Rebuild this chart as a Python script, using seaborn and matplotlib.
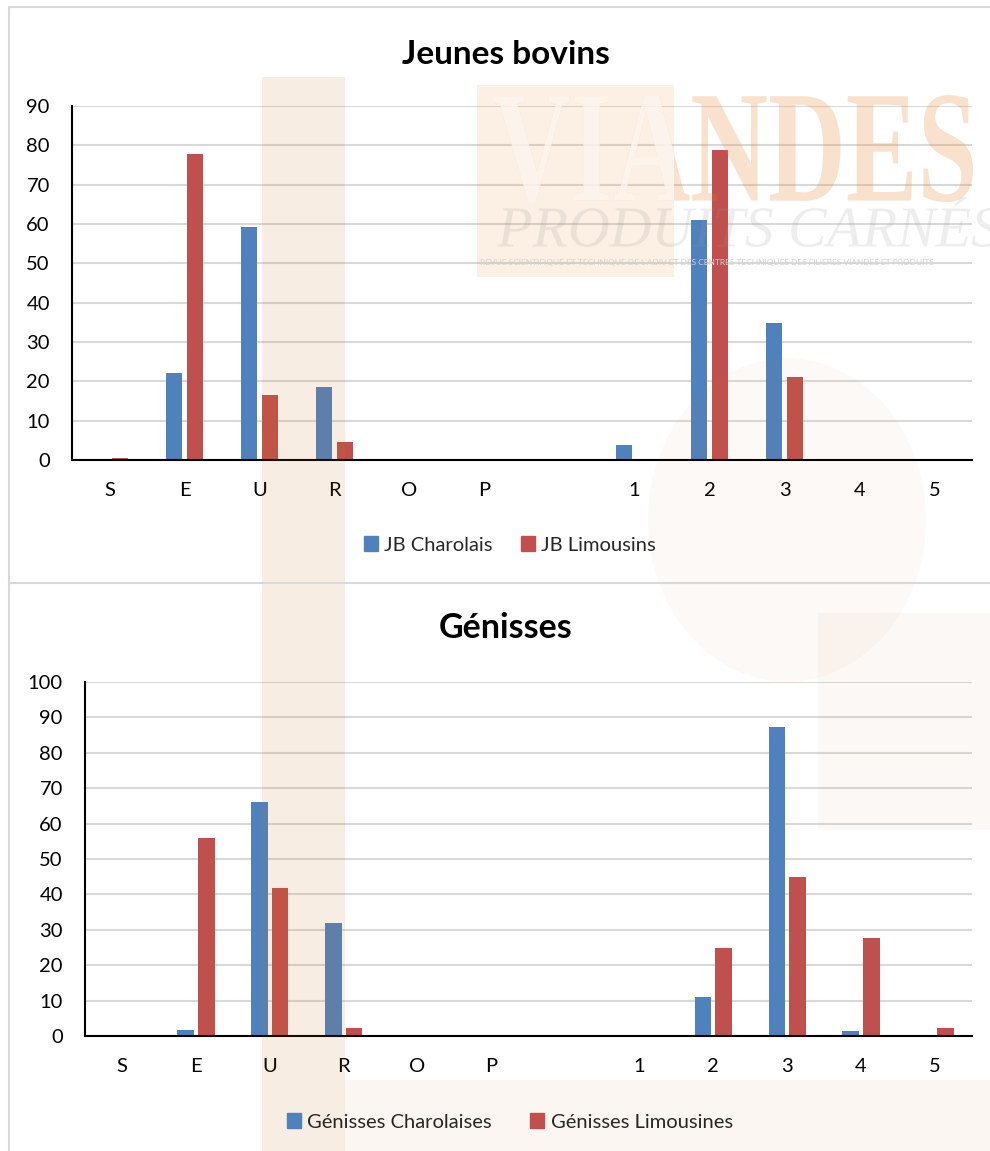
import pandas as pd
import matplotlib
matplotlib.use("Agg")
import matplotlib.pyplot as plt
import matplotlib.patches as mpatches
import matplotlib.transforms as mtransforms
from matplotlib.textpath import TextPath
from matplotlib.font_manager import FontProperties
from matplotlib.lines import Line2D
import seaborn as sns

# Data (% of animals per class)
classes = ["S", "E", "U", "R", "O", "P", " ", "1", "2", "3", "4", "5"]
jb_charolais = [0, 22.2, 59.2, 18.5, 0, 0, 0, 3.8, 61.0, 34.9, 0, 0]
jb_limousins = [0.6, 77.7, 16.4, 4.7, 0, 0, 0, 0, 78.8, 21.0, 0, 0]
gen_charolaises = [0, 1.7, 66.1, 31.9, 0, 0, 0, 0, 11.1, 87.2, 1.4, 0]
gen_limousines = [0, 56.0, 41.7, 2.2, 0, 0, 0, 0, 24.8, 45.0, 27.7, 2.2]

BLUE = "#4f81bd"
RED = "#c0504d"
W, H = 990, 1151

sns.set_theme(style="white")
plt.rcParams["font.family"] = ["Lato", "DejaVu Sans"]

fig = plt.figure(figsize=(W / 100, H / 100), dpi=100)
fig.patch.set_facecolor("white")


def fx(px):
    return px / W


def fy(py):
    return 1 - py / H


def panel(rect, names, s1, s2, ymax, title, title_y, title_size, legend_y, colspace):
    left, top, right, bottom = rect
    ax = fig.add_axes([fx(left), fy(bottom), fx(right - left), fy(top) - fy(bottom)])
    df = pd.DataFrame({
        "classe": classes * 2,
        "valeur": s1 + s2,
        "serie": [names[0]] * len(classes) + [names[1]] * len(classes),
    })
    sns.barplot(data=df, x="classe", y="valeur", hue="serie", order=classes,
                hue_order=names, palette=[BLUE, RED], saturation=1,
                width=0.56, gap=0.2, linewidth=0, legend=False, ax=ax)
    ax.set_xlim(-0.5, len(classes) - 0.5)
    ax.set_ylim(0, ymax)
    ax.set_yticks(range(0, ymax + 1, 10))
    ax.set_xlabel("")
    ax.set_ylabel("")
    ax.set_facecolor("white")
    ax.yaxis.grid(True, color="#d9d9d9", linewidth=1.5)
    ax.set_axisbelow(True)
    for side in ["top", "right"]:
        ax.spines[side].set_visible(False)
    ax.spines["left"].set_color("black")
    ax.spines["left"].set_linewidth(1.5)
    ax.spines["bottom"].set_color("black")
    ax.spines["bottom"].set_linewidth(1.5)
    ax.tick_params(axis="x", length=0, pad=16, labelsize=14.5, colors="black")
    ax.tick_params(axis="y", length=0, pad=16, labelsize=14.5, colors="black")
    fig.text(fx(506), fy(title_y), title, ha="center", va="center",
             fontsize=title_size, fontweight="bold", color="black")
    handles = [mpatches.Patch(color=BLUE, label=names[0]),
               mpatches.Patch(color=RED, label=names[1])]
    fig.legend(handles=handles, loc="center", bbox_to_anchor=(fx(510), fy(legend_y)),
               ncol=2, frameon=False, fontsize=14.5, handlelength=0.7, handleheight=0.75,
               handletextpad=0.3, columnspacing=colspace)
    return ax


panel((72, 106, 972, 460), ["JB Charolais", "JB Limousins"], jb_charolais, jb_limousins,
      90, "Jeunes bovins", 55, 24, 545, 1.4)
panel((85, 682, 972, 1036), ["Génisses Charolaises", "Génisses Limousines"],
      gen_charolaises, gen_limousines, 100, "Génisses", 628, 24.5, 1122, 1.9)

# panel borders
for (x0, y0, x1, y1) in [(9, 7, 990, 7), (9, 7, 9, 1151), (9, 583, 990, 583)]:
    fig.add_artist(Line2D([fx(x0), fx(x1)], [fy(y0), fy(y1)], color="#d9d9d9",
                          linewidth=1.5, transform=fig.transFigure, zorder=5))

# faint watermark laid over the charts
ORANGE = "#c5711e"


def px_rect(x0, y0, x1, y1, color, alpha):
    r = mpatches.Rectangle((fx(x0), fy(y1)), fx(x1 - x0), fy(y0) - fy(y1),
                           transform=fig.transFigure, facecolor=color,
                           edgecolor="none", alpha=alpha, zorder=4)
    fig.add_artist(r)
    return r


px_rect(262, 77, 345, 1151, ORANGE, 0.12)
px_rect(345, 1080, 990, 1151, ORANGE, 0.06)
px_rect(818, 613, 990, 830, ORANGE, 0.045)
fig.add_artist(mpatches.Circle((fx(787), fy(520)), fx(139), transform=fig.transFigure,
                               facecolor=ORANGE, edgecolor="none", alpha=0.035, zorder=4))


def px_textpath(text, x0, x1, ytop, ybot, color, alpha, style="normal",
                weight="normal", clip=None):
    tp = TextPath((0, 0), text, size=1,
                  prop=FontProperties(family="Liberation Serif", style=style, weight=weight))
    ext = tp.get_extents()
    sy = (ybot - ytop) / ext.height
    sx = sy if x1 is None else (x1 - x0) / ext.width
    tr = (mtransforms.Affine2D()
          .translate(-ext.x0, -ext.y0)
          .scale(sx / 100, sy / 100)
          .translate(x0 / 100, (H - ybot) / 100)
          + fig.dpi_scale_trans)
    p = mpatches.PathPatch(tp, transform=tr, facecolor=color, edgecolor="none",
                           alpha=alpha, zorder=4)
    fig.add_artist(p)
    if clip is not None:
        p.set_clip_path(clip)
    return p


px_textpath("VIANDES", 494, 973, 95, 203, "#e87d1e", 0.22, weight="bold")
box = px_rect(477, 85, 674, 277, "#e87d1e", 0.12)
px_textpath("VIANDES", 494, 973, 95, 203, "white", 0.75, weight="bold", clip=box)
px_textpath("PRODUITS CARNÉS", 497, None, 197, 247, "#9a9a9a", 0.17, style="italic")
fig.text(fx(480), fy(263), "REVUE SCIENTIFIQUE ET TECHNIQUE DE L'ADIV ET DES CENTRES TECHNIQUES DES FILIERES VIANDES ET PRODUITS",
         fontsize=6, color="#d2d2d2", va="center", ha="left", zorder=4)

fig.savefig("out.png", dpi=100)
